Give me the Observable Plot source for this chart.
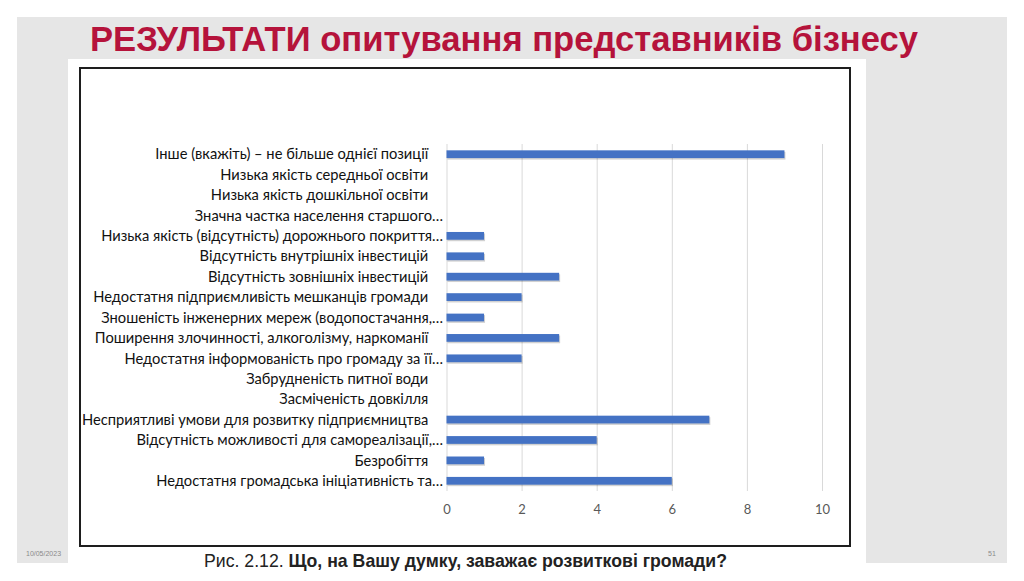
<!DOCTYPE html>
<html>
<head>
<meta charset="utf-8">
<script src="https://cdn.jsdelivr.net/npm/d3@7"></script>
<script src="https://cdn.jsdelivr.net/npm/@observablehq/plot@0.6"></script>
<style>
  html, body { margin: 0; padding: 0; background: #fff; }
  #page { position: relative; width: 1024px; height: 581px; overflow: hidden; background: #fff; }
  .abs { position: absolute; }
  #gray { left: 17px; top: 17px; width: 990px; height: 546px; background: #e6e6e6; }
  #white { left: 68px; top: 59px; width: 798px; height: 522px; background: #fff; }
  #title { left: 90px; top: 18px; white-space: nowrap; font-family: "Liberation Sans", Arial, sans-serif; font-weight: bold; font-size: 35px; color: #b5133b; transform-origin: 0 0; line-height: 1.2; }
  #box { left: 79px; top: 67px; width: 772px; height: 480px; box-sizing: border-box; border: 2.5px solid #1e1e1e; }
  #chart { left: 81px; top: 69px; }
  #caption { left: 204px; top: 550px; white-space: nowrap; font-family: "Liberation Sans", Arial, sans-serif; font-size: 18.5px; color: #222; transform-origin: 0 0; line-height: 1.2; }
  #date { left: 26px; top: 550px; font-family: "Liberation Sans", Arial, sans-serif; font-size: 7px; color: #8a8a8a; }
  #pnum { left: 988px; top: 550px; font-family: "Liberation Sans", Arial, sans-serif; font-size: 7px; color: #8a8a8a; }
</style>
</head>
<body>
<div id="page">
  <div id="gray" class="abs"></div>
  <div id="white" class="abs"></div>
  <div id="title" class="abs">РЕЗУЛЬТАТИ опитування представників бізнесу</div>
  <div id="box" class="abs"></div>
  <div id="chart" class="abs"></div>
  <div id="caption" class="abs">Рис. 2.12. <b>Що, на Вашу думку, заважає розвиткові громади?</b></div>
  <div id="date" class="abs">10/05/2023</div>
  <div id="pnum" class="abs">51</div>
</div>
<script>
const categories = [
  "Інше (вкажіть) – не більше однієї позиції",
  "Низька якість середньої освіти",
  "Низька якість дошкільної освіти",
  "Значна частка населення старшого…",
  "Низька якість (відсутність) дорожнього покриття…",
  "Відсутність внутрішніх інвестицій",
  "Відсутність зовнішніх інвестицій",
  "Недостатня підприємливість мешканців громади",
  "Зношеність інженерних мереж (водопостачання,…",
  "Поширення злочинності, алкоголізму, наркоманії",
  "Недостатня інформованість про громаду за її…",
  "Забрудненість питної води",
  "Засміченість довкілля",
  "Несприятливі умови для розвитку підприємництва",
  "Відсутність можливості для самореалізації,…",
  "Безробіття",
  "Недостатня громадська ініціативність та…"
];
const values = [9, 0, 0, 0, 1, 1, 3, 2, 1, 3, 2, 0, 0, 7, 4, 1, 6];
const xTicks = [0, 2, 4, 6, 8, 10];

const data = categories.map((c, i) => ({category: c, value: values[i]}));

const labelFont = "Lato, 'Open Sans', sans-serif";

const chart = Plot.plot({
  width: 768,
  height: 476,
  marginLeft: 365.5,
  marginRight: 27,
  marginTop: 75,
  marginBottom: 54,
  style: {background: "transparent", fontFamily: labelFont},
  x: {domain: [0, 10], ticks: xTicks},
  y: {domain: categories, paddingInner: 0.62, paddingOuter: 0.31, round: false},
  marks: [
    Plot.gridX(xTicks, {stroke: "#d9d9d9", strokeOpacity: 1, strokeWidth: 1}),
    Plot.barX(data, {x: "value", y: "category", fill: "#000", fillOpacity: 0.18, dx: 1, dy: 1.5}),
    Plot.barX(data, {x: "value", y: "category", fill: "#4472c4"}),
    Plot.axisY({
      tickSize: 0, tickPadding: 4, fontSize: 14.7, fill: "#111", label: null,
      tickFormat: d => d.endsWith("…") ? d : d + "\u2002\u2002"
    }),
    Plot.axisX(xTicks, {tickSize: 0, tickPadding: 13.5, fontSize: 13, fill: "#595959", label: null})
  ]
});
document.getElementById("chart").appendChild(chart);

function fit(id, target) {
  const el = document.getElementById(id);
  const w = el.getBoundingClientRect().width;
  if (w > 0) el.style.transform = `scaleX(${target / w})`;
}
fit("title", 828);
fit("caption", 523);
</script>
</body>
</html>
